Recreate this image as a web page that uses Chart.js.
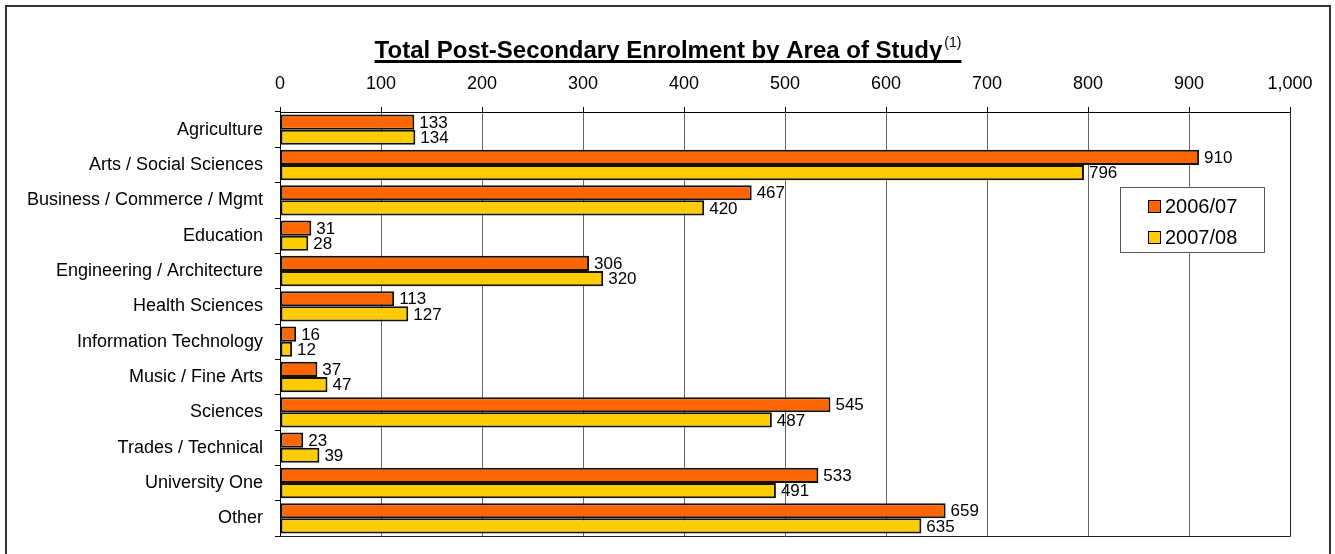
<!DOCTYPE html>
<html>
<head>
<meta charset="utf-8">
<script src="https://cdn.jsdelivr.net/npm/chart.js@4"></script>
<style>
  html, body { margin: 0; padding: 0; background: #fff; }
  #wrap { width: 1335px; height: 554px; position: relative; }
</style>
</head>
<body>
<div id="wrap"><canvas id="enrolChart" width="1335" height="554"></canvas></div>
<script>
// Chart data
const categories = ['Agriculture', 'Arts / Social Sciences', 'Business / Commerce / Mgmt', 'Education',
    'Engineering / Architecture', 'Health Sciences', 'Information Technology', 'Music / Fine Arts',
    'Sciences', 'Trades / Technical', 'University One', 'Other'];
const seriesNames = ['2006/07', '2007/08'];
const values0607 = [133, 910, 467, 31, 306, 113, 16, 37, 545, 23, 533, 659];
const values0708 = [134, 796, 420, 28, 320, 127, 12, 47, 487, 39, 491, 635];
const seriesColors = ['#FF6600', '#FFCC00'];
const titleText = 'Total Post-Secondary Enrolment by Area of Study';
const titleNote = '(1)';

const FONT = '"Liberation Sans", Arial, sans-serif';

// Frame, title and plot border
const framePlugin = {
    id: 'frame',
    beforeDraw(chart) {
        const c = chart.ctx;
        c.save();
        c.fillStyle = '#fff';
        c.fillRect(0, 0, chart.width, chart.height);
        c.strokeStyle = '#333';
        c.lineWidth = 2;
        c.strokeRect(6, 6, 1324, 560);
        c.restore();
    },
    afterDraw(chart) {
        const c = chart.ctx;
        const a = chart.chartArea;
        c.save();
        // plot border (right / bottom)
        c.strokeStyle = '#222';
        c.lineWidth = 1;
        c.beginPath();
        c.moveTo(a.right + 0.5, a.top);
        c.lineTo(a.right + 0.5, a.bottom + 0.5);
        c.lineTo(a.left, a.bottom + 0.5);
        c.stroke();

        // title
        c.fillStyle = '#000';
        c.font = 'bold 24px ' + FONT;
        const tw = c.measureText(titleText).width;
        c.font = '14px ' + FONT;
        const nw = c.measureText(titleNote).width;
        const total = tw + 2 + nw;
        const x0 = 668 - total / 2;
        const baseY = 58;
        c.font = 'bold 24px ' + FONT;
        c.textAlign = 'left';
        c.textBaseline = 'alphabetic';
        c.fillText(titleText, x0, baseY);
        c.font = '14px ' + FONT;
        c.fillText(titleNote, x0 + tw + 2, baseY - 11);
        c.fillRect(x0, baseY + 2, total, 3);

        // legend
        const lx = a.right - 170, ly = 187, lw = 144, lh = 65;
        c.strokeStyle = '#555';
        c.lineWidth = 1;
        c.fillStyle = '#fff';
        c.fillRect(lx, ly, lw, lh);
        c.strokeRect(lx + 0.5, ly + 0.5, lw, lh);
        c.font = '20px ' + FONT;
        c.textBaseline = 'middle';
        seriesNames.forEach((name, i) => {
            const yy = ly + 19 + i * 31;
            c.fillStyle = seriesColors[i];
            c.fillRect(lx + 28, yy - 6, 13, 13);
            c.strokeStyle = '#000';
            c.strokeRect(lx + 28.5, yy - 5.5, 12, 12);
            c.fillStyle = '#000';
            c.fillText(name, lx + 45, yy + 1);
        });
        c.restore();
    }
};

// Value labels at bar ends
const valueLabels = {
    id: 'valueLabels',
    afterDatasetsDraw(chart) {
        const c = chart.ctx;
        c.save();
        c.font = '17px ' + FONT;
        c.fillStyle = '#000';
        c.textAlign = 'left';
        c.textBaseline = 'middle';
        chart.data.datasets.forEach((ds, di) => {
            chart.getDatasetMeta(di).data.forEach((bar, i) => {
                c.fillText(ds.data[i], bar.x + 5, bar.y + 1);
            });
        });
        c.restore();
    }
};

const ctx = document.getElementById('enrolChart').getContext('2d');
const enrolChart = new Chart(ctx, {
    type: 'bar',
    data: {
        labels: categories,
        datasets: [
            { label: seriesNames[0], data: values0607, backgroundColor: seriesColors[0],
              borderColor: '#111', borderWidth: 2, borderSkipped: false },
            { label: seriesNames[1], data: values0708, backgroundColor: seriesColors[1],
              borderColor: '#111', borderWidth: 2, borderSkipped: false }
        ]
    },
    options: {
        indexAxis: 'y',
        responsive: false,
        animation: false,
        devicePixelRatio: 1,
        layout: { padding: { left: 0, right: 45, top: 0, bottom: 18 } },
        datasets: { bar: { barPercentage: 1, categoryPercentage: 0.86 } },
        plugins: {
            legend: { display: false },
            title: { display: false },
            tooltip: { enabled: false }
        },
        scales: {
            x: {
                position: 'top',
                min: 0,
                max: 1000,
                ticks: {
                    stepSize: 100,
                    padding: 12,
                    color: '#000',
                    font: { family: FONT, size: 18 },
                    callback: v => v.toLocaleString('en-US')
                },
                grid: { color: '#666', tickLength: 5, tickColor: '#000' },
                border: { color: '#000', width: 1 },
                afterFit(scale) { scale.height = 112; }
            },
            y: {
                ticks: {
                    padding: 12,
                    color: '#000',
                    font: { family: FONT, size: 18 }
                },
                grid: { drawOnChartArea: false, offset: true, tickLength: 5, tickColor: '#000' },
                border: { color: '#000', width: 1 },
                afterFit(scale) {
                    scale.width = 280;
                    scale.paddingTop = 0;
                    scale.paddingBottom = 0;
                }
            }
        }
    },
    plugins: [framePlugin, valueLabels]
});
</script>
</body>
</html>
